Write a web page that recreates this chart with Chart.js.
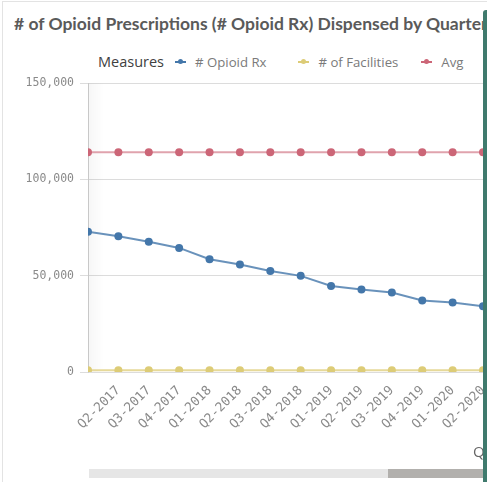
<!DOCTYPE html>
<html lang="en">
<head>
<meta charset="UTF-8">
<script src="https://cdn.jsdelivr.net/npm/chart.js"></script>
<title>Opioid Rx by Quarter</title>
<style>
  html, body { margin: 0; padding: 0; background: #fff; }
  #card {
    position: relative; width: 487px; height: 482px; overflow: hidden;
    font-family: "Open Sans", sans-serif;
  }
  #frame {
    position: absolute; left: 2px; top: 1px; width: 500px; height: 500px;
    border: 1px solid #e3e3e3; box-sizing: border-box;
  }
  #title {
    position: absolute; left: 14px; top: 13px; width: 469px; overflow: hidden;
    white-space: nowrap; font: bold 17.5px Lato, sans-serif; color: #5a5a5a;
  }
  #legend {
    position: absolute; left: 98px; top: 52px; display: flex; align-items: center;
    white-space: nowrap;
  }
  #legend .head { font-size: 14.5px; color: #404040; margin-right: 11px; }
  #legend .item { display: flex; align-items: center; font-size: 13.2px; color: #7a7a7a; margin-right: 32px; }
  #legend .item:nth-child(3) { margin-right: 23px; }
  #legend .mark { position: relative; width: 11px; height: 2px; margin-right: 9px; }
  #legend .mark i { position: absolute; left: 3px; top: -2px; width: 5px; height: 5px; border-radius: 50%; }
  #chart { position: absolute; left: 0; top: 0; }
  #scroll { position: absolute; left: 89px; top: 469px; width: 394px; height: 9px; background: #e6e6e6; }
  #thumb { position: absolute; left: 299px; top: 0; width: 95px; height: 9px; background: #b2b0ad; }
  #edge {
    position: absolute; left: 483px; top: 10px; width: 10px; height: 480px;
    background: #3f7a6d; border-top-left-radius: 3px;
  }
</style>
</head>
<body>
<div id="card">
  <div id="frame"></div>
  <div id="title"># of Opioid Prescriptions (# Opioid Rx) Dispensed by Quarter</div>
  <div id="legend"></div>
  <canvas id="chart" width="487" height="482"></canvas>
  <div id="scroll"><div id="thumb"></div></div>
  <div id="edge"></div>
</div>

<script>
// quarters in view (first one is cut at the axis, last one at the edge)
const quarters = ['Q1-2017', 'Q2-2017', 'Q3-2017', 'Q4-2017', 'Q1-2018', 'Q2-2018', 'Q3-2018',
  'Q4-2018', 'Q1-2019', 'Q2-2019', 'Q3-2019', 'Q4-2019', 'Q1-2020', 'Q2-2020'];
const opioidRx = [72800, 70500, 67600, 64400, 58500, 55800, 52400, 49900, 44600, 42800, 41300, 37100, 36100, 34100];
const facilities = [950, 950, 950, 950, 950, 950, 950, 950, 950, 950, 950, 950, 950, 950];
const avgRx = [114000, 114000, 114000, 114000, 114000, 114000, 114000, 114000, 114000, 114000, 114000, 114000, 114000, 114000];
const yTicks = [0, 50000, 100000, 150000];

const series = [
  { label: '# Opioid Rx', data: opioidRx, color: '#4477aa', line: 'rgba(68,119,170,0.8)' },
  { label: '# of Facilities', data: facilities, color: '#ddcc77', line: 'rgba(221,204,119,0.75)' },
  { label: 'Avg', data: avgRx, color: '#cc6677', line: 'rgba(204,102,119,0.6)' }
];

// legend row: "Measures" then a line+dot marker per measure
const legend = document.getElementById('legend');
legend.innerHTML = '<span class="head">Measures</span>' + series.map(s =>
  `<span class="item"><span class="mark" style="background:${s.color}"><i style="background:${s.color}"></i></span>${s.label}</span>`
).join('');

const mono = '"DejaVu Sans Mono", monospace';

// faint shadow along the left edge of the scrolled plot + cut-off axis title
const extras = {
  id: 'extras',
  beforeDatasetsDraw(chart) {
    const { ctx, chartArea: a } = chart;
    const g = ctx.createLinearGradient(a.left, 0, a.left + 16, 0);
    g.addColorStop(0, 'rgba(0,0,0,0.035)');
    g.addColorStop(1, 'rgba(0,0,0,0)');
    ctx.save();
    ctx.fillStyle = g;
    ctx.fillRect(a.left, a.top, 16, a.bottom - a.top);
    ctx.restore();
  },
  afterDraw(chart) {
    const ctx = chart.ctx;
    ctx.save();
    ctx.font = '15px "Open Sans", sans-serif';
    ctx.fillStyle = '#666';
    ctx.textBaseline = 'middle';
    ctx.fillText('Quarter', 473, 453);
    ctx.restore();
  }
};

new Chart(document.getElementById('chart'), {
  type: 'line',
  data: {
    labels: quarters,
    datasets: series.map(s => ({
      label: s.label,
      data: s.data,
      borderColor: s.line,
      backgroundColor: s.color,
      borderWidth: 2,
      pointRadius: 4,
      pointBorderWidth: 0,
      pointHoverRadius: 4,
      tension: 0,
      clip: 0
    }))
  },
  options: {
    responsive: false,
    animation: false,
    events: [],
    layout: { padding: { top: 83, left: 0, right: 1, bottom: 0 } },
    plugins: { legend: { display: false }, tooltip: { enabled: false } },
    scales: {
      x: {
        offset: false,
        grid: { display: false },
        border: { display: false },
        ticks: {
          autoSkip: false, minRotation: 45, maxRotation: 45, padding: 3,
          color: '#8a8a8a', font: { family: mono, size: 12.8 },
          callback: (v, i) => i === 0 ? '' : quarters[i]
        },
        afterFit(s) { s.height = 110; s.paddingLeft = 0; s.paddingRight = 0; }
      },
      y: {
        min: 0, max: 150000,
        afterBuildTicks(s) { s.ticks = yTicks.map(v => ({ value: v })); },
        grid: { color: '#dcdcdc', tickLength: 8 },
        border: { color: '#cfcfcf' },
        ticks: {
          padding: 6, color: '#8a8a8a', font: { family: mono, size: 11.5 },
          callback: v => v.toLocaleString('en-US')
        },
        afterFit(s) { s.width = 88; }
      }
    }
  },
  plugins: [extras]
});
</script>
</body>
</html>
